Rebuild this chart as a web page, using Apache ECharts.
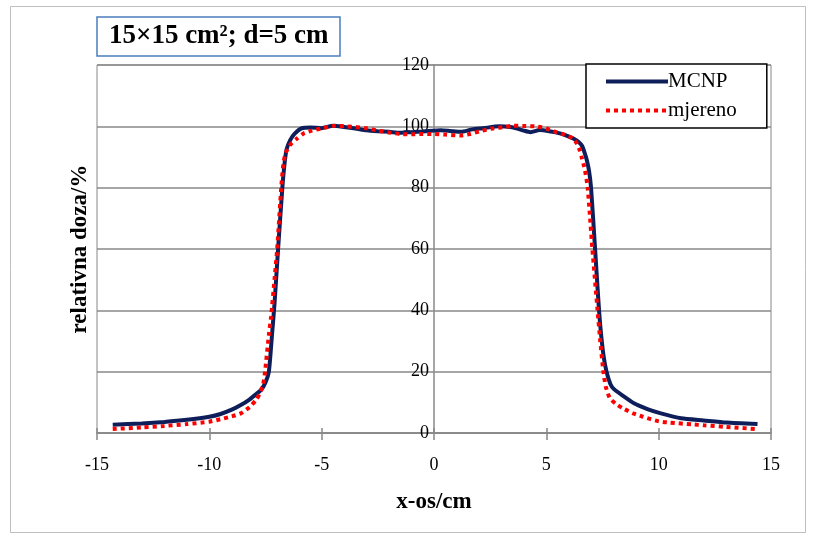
<!DOCTYPE html>
<html><head><meta charset="utf-8">
<script src="https://cdn.jsdelivr.net/npm/echarts@6/dist/echarts.min.js"></script>
<style>html,body{margin:0;padding:0;background:#fff}#c{width:816px;height:538px}</style>
</head><body><div id="c"></div>
<script>
const titleText = '15×15 cm²; d=5 cm';
const xName = 'x-os/cm';
const yName = 'relativna doza/%';
const seriesNames = ['MCNP', 'mjereno'];
const xTicks = [-15, -10, -5, 0, 5, 10, 15];
const yTicks = [0, 20, 40, 60, 80, 100, 120];

const mcnpX = [-14.3,-13,-12,-11,-10,-9.5,-9,-8.6,-8.2,-7.9,-7.7,-7.5,-7.35,-7.2,-7.1,-6.94,-6.75,-6.65,-6.56,-6.4,-6.2,-5.9,-5.5,-5.0,-4.5,-4.0,-3.5,-3.0,-2.5,-2.0,-1.5,-1.0,-0.5,0,0.3,0.7,1.2,1.7,2.2,2.9,3.4,3.7,4.0,4.3,4.7,5.2,5.6,5.9,6.2,6.45,6.6,6.72,6.8,6.9,6.99,7.17,7.3,7.4,7.55,7.68,7.85,8.0,8.4,8.9,9.5,10.1,11,12,13,14.4];
const mcnpY = [2.7,3.1,3.6,4.3,5.3,6.2,7.6,9.1,11.0,12.8,14.0,16.5,20,33,42,60,80,88,92.5,95.5,97.6,99.3,99.6,99.4,100.2,99.8,99.3,98.7,98.4,98.2,97.9,98.1,98.3,98.6,98.7,98.5,98.2,99.0,99.4,100,99.8,99.3,98.6,98.1,98.8,98.3,97.7,97.0,96,94.8,93.5,91,89,85.5,80,60,45,35,25,20,16,14.4,12.2,9.7,7.8,6.4,4.8,4.1,3.4,2.9];

const measX = [-14.3,-13,-12,-11,-10,-9.5,-9,-8.6,-8.2,-7.9,-7.75,-7.6,-7.52,-7.35,-7.25,-7.1,-6.98,-6.8,-6.7,-6.6,-6.4,-6.1,-5.8,-5.44,-5.0,-4.4,-3.9,-3.0,-2.5,-2.0,-1.5,-1.0,-0.5,0,0.5,1.2,1.6,2.05,2.6,3.2,3.5,4.0,4.5,5.0,5.45,5.83,6.2,6.35,6.5,6.57,6.72,6.84,7.05,7.28,7.4,7.54,7.65,7.83,8.1,8.42,8.9,9.3,10.0,10.5,11.5,12,13,14.3];
const measY = [1.3,1.8,2.3,2.9,3.7,4.5,5.4,6.4,8.5,11,13,16,20,32,38,50,60,80,88,91.3,94,96,97.7,98.6,99.3,100.2,100,99.4,98.6,98,97.5,97.4,97.5,97.5,97.3,97.0,97.5,98.4,99.3,99.8,100.2,100.1,100,99.3,98.1,97.2,96,94.5,92,90,85.7,80,60,40,30,20,15,11.3,9.5,8.0,6.3,5.3,3.8,3.4,2.8,2.5,2.0,1.3];

const serif = '"Liberation Serif", "Times New Roman", serif';
const zip = (a, b) => a.map((v, i) => [v, b[i]]);
const navy = '#0e1e5b', red = '#ff0000';

const chart = echarts.init(document.getElementById('c'), null, {renderer: 'canvas'});
chart.setOption({
  animation: false,
  backgroundColor: '#fff',
  title: {
    text: titleText, left: 97, top: 17,
    borderColor: '#4a7ebb', borderWidth: 1.5,
    padding: [6, 12, 6, 12],
    textStyle: {fontFamily: serif, fontWeight: 'bold', fontSize: 27, color: '#000'}
  },
  legend: {
    orient: 'vertical', left: 586, top: 64,
    borderColor: '#000', borderWidth: 1.5, backgroundColor: '#fff',
    padding: [7, 30, 7, 18], itemGap: 8, itemWidth: 62, itemHeight: 14,
    textStyle: {fontFamily: serif, fontSize: 21, color: '#000', padding: [0, 0, 0, -5]},
    data: [
      {name: seriesNames[0], itemStyle: {opacity: 0}, lineStyle: {color: navy, width: 4, opacity: 1}},
      {name: seriesNames[1], itemStyle: {opacity: 0}, lineStyle: {color: red, width: 4, type: [4, 4], opacity: 1}}
    ]
  },
  grid: {left: 97, right: 45, top: 65, bottom: 105, show: true, borderColor: '#888', borderWidth: 1, backgroundColor: '#fff'},
  xAxis: [{
    type: 'value', min: xTicks[0], max: xTicks[xTicks.length - 1], interval: 5,
    name: xName, nameLocation: 'middle', nameGap: 58,
    nameTextStyle: {fontFamily: serif, fontWeight: 'bold', fontSize: 23, color: '#000'},
    axisLine: {show: true, onZero: false, lineStyle: {color: '#888', width: 1.5}},
    axisTick: {show: true, length: 7, lineStyle: {color: '#888', width: 1.5}},
    axisLabel: {fontFamily: serif, fontSize: 18, color: '#000', margin: 23},
    splitLine: {show: false}
  }, {
    type: 'value', min: xTicks[0], max: xTicks[xTicks.length - 1], interval: 5, position: 'bottom',
    axisLine: {show: false, onZero: false}, axisLabel: {show: false}, splitLine: {show: false},
    axisTick: {show: true, inside: true, length: 5, lineStyle: {color: '#888', width: 1.5}}
  }],
  yAxis: {
    type: 'value', min: yTicks[0], max: yTicks[yTicks.length - 1], interval: 20,
    position: 'left', offset: -337,
    axisLine: {show: true, onZero: false, lineStyle: {color: '#888', width: 1.5}},
    axisTick: {show: false},
    axisLabel: {fontFamily: serif, fontSize: 18, color: '#000', margin: 5},
    splitLine: {show: true, lineStyle: {color: '#888', width: 1.5}}
  },
  graphic: [
    {type: 'rect', shape: {x: 10.5, y: 6.5, width: 795, height: 526}, style: {fill: 'none', stroke: '#bfbfbf', lineWidth: 1}, z: -10},
    {type: 'text', x: 80, y: 249, rotation: Math.PI / 2,
      style: {text: yName, font: 'bold 23px ' + serif, fill: '#000', align: 'center', verticalAlign: 'middle'}}
  ],
  series: [
    {name: seriesNames[0], type: 'line', data: zip(mcnpX, mcnpY), symbol: 'none', smooth: 0.2,
      lineStyle: {color: navy, width: 4}, itemStyle: {color: navy}, z: 3},
    {name: seriesNames[1], type: 'line', data: zip(measX, measY), symbol: 'none', smooth: 0.2,
      lineStyle: {color: red, width: 4, type: [4, 4], cap: 'butt'}, itemStyle: {color: red}, z: 4}
  ]
});
</script></body></html>
